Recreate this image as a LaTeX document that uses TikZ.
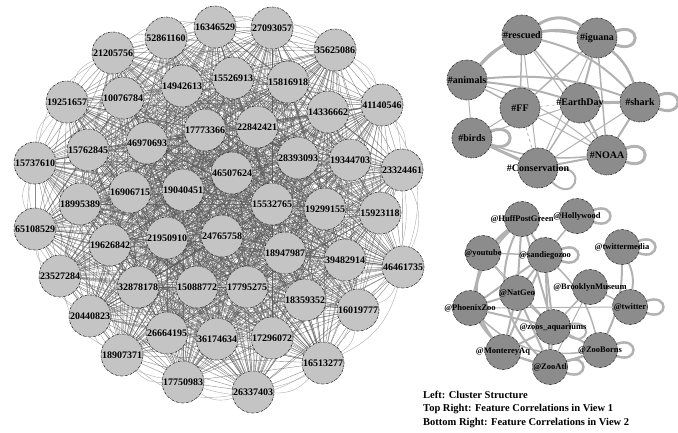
\documentclass[tikz,border=0pt]{standalone}
\usepackage{fontspec}
\setmainfont{Liberation Serif}
\usetikzlibrary{backgrounds}
\definecolor{lfill}{RGB}{196,196,196}
\definecolor{rfill}{RGB}{140,140,140}
\definecolor{redge}{RGB}{178,178,178}
\definecolor{bord}{RGB}{50,50,50}
\newcommand{\lb}[1]{\makebox[0pt]{#1}}
\tikzset{
  lnode/.style={circle,fill=lfill,draw=bord,line width=0.6pt,dash pattern=on 2.5pt off 1pt on 0.6pt off 1pt,minimum size=42pt,inner sep=0pt,font=\fontsize{10}{10}\selectfont\bfseries},
  tnode/.style={circle,fill=rfill,draw=bord,line width=0.6pt,dash pattern=on 2.5pt off 1pt on 0.6pt off 1pt,minimum size=40pt,inner sep=0pt,font=\fontsize{10}{10}\selectfont\bfseries},
  bnode/.style={circle,fill=rfill,draw=bord,line width=0.6pt,dash pattern=on 2.5pt off 1pt on 0.6pt off 1pt,minimum size=35pt,inner sep=0pt,font=\fontsize{8.5}{8.5}\selectfont\bfseries},
  lnk/.style={draw=black!65,line width=0.4pt,draw opacity=0.7},
  arcl/.style={draw=black!35,line width=0.35pt,bend left=25},
  re/.style={draw=redge,line width=#1},
  re/.default=2pt,
  caption/.style={anchor=west,inner sep=0pt,font=\fontsize{10.5}{10.5}\selectfont\bfseries}
}
\begin{document}
\begin{tikzpicture}[x=1pt,y=1pt]
\useasboundingbox (0,0) rectangle (678,-432);
% ---------- left: cluster structure ----------
\foreach \n/\t/\x/\y in {
1/16346529/215/27, 2/27093057/272/28, 3/52861160/166/38, 4/21205756/113/53,
5/35625086/335/50, 6/15526913/233/78, 7/15816918/288/82, 8/14942613/182/86,
9/10076784/123/98, 10/19251657/67/102, 11/41140546/382/105, 12/14336662/328/112,
13/17773366/205/130, 14/22842421/257/127, 15/15762845/88/150, 16/46970693/147/143,
17/28393093/298/158, 18/19344703/350/160, 19/23324461/402/170, 20/15737610/35/163,
21/46507624/232/173, 22/16906715/130/192, 23/19040451/183/190, 24/15532765/272/204,
25/19299155/325/209, 26/15923118/380/213, 27/18995389/80/204, 28/65108529/35/229,
29/19626842/110/245, 30/21950910/167/238, 31/24765758/222/236, 32/18947987/285/253,
33/39482914/345/260, 34/46461735/403/267, 35/23527284/60/276, 36/32878178/138/287,
37/15088772/197/287, 38/17795275/247/287, 39/18359352/305/300, 40/20440823/90/316,
41/16019777/358/310, 42/26664195/167/333, 43/36174634/217/339, 44/17296072/272/338,
45/18907371/122/355, 46/16513277/323/363, 47/17750983/183/382, 48/26337403/253/392}
  \node[lnode] (n\n) at (\x,-\y) {\lb{\t}};
% ---------- top right: view 1 ----------
\node[tnode] (t1) at (522,-35) {\lb{\#rescued}};
\node[tnode] (t2) at (597,-38) {\lb{\#iguana}};
\node[tnode] (t3) at (467,-80) {\lb{\#animals}};
\node[tnode] (t4) at (520,-108) {\lb{\#FF}};
\node[tnode] (t5) at (580,-103) {\lb{\#EarthDay}};
\node[tnode] (t6) at (640,-102) {\lb{\#shark}};
\node[tnode] (t7) at (472,-138) {\lb{\#birds}};
\node[tnode] (t8) at (538,-168) {\lb{\#Conservation}};
\node[tnode] (t9) at (607,-155) {\lb{\#NOAA}};
% ---------- bottom right: view 2 ----------
\node[bnode] (b1) at (522,-219) {\lb{@HuffPostGreen}};
\node[bnode] (b2) at (577,-216) {\lb{@Hollywood}};
\node[bnode] (b3) at (622,-247) {\lb{@twittermedia}};
\node[bnode] (b4) at (483,-253) {\lb{@youtube}};
\node[bnode] (b5) at (545,-255) {\lb{@sandiegozoo}};
\node[bnode] (b6) at (590,-287) {\lb{@BrooklynMuseum}};
\node[bnode] (b7) at (517,-293) {\lb{@NatGeo}};
\node[bnode] (b8) at (470,-308) {\lb{@PhoenixZoo}};
\node[bnode] (b9) at (630,-307) {\lb{@twitter}};
\node[bnode] (b10) at (553,-327) {\lb{@zoos\_aquariums}};
\node[bnode] (b11) at (503,-352) {\lb{@MontereyAq}};
\node[bnode] (b12) at (600,-350) {\lb{@ZooBorns}};
\node[bnode] (b13) at (550,-367) {\lb{@ZooAtl}};
% ---------- caption ----------
\node[caption] (c1) at (423,-395) {Left: Cluster Structure};
\node[caption] (c2) at (423,-409) {Top Right: Feature Correlations in View 1};
\node[caption] (c3) at (423,-423) {Bottom Right: Feature Correlations in View 2};
% ---------- edges ----------
\begin{scope}[on background layer]
\foreach \i in {1,...,48}{
  \foreach \j in {\i,...,48}{
    \ifnum\j>\i \draw[lnk] (n\i) -- (n\j); \fi
  }
}
\foreach \a/\b in {1/2,2/5,5/11,11/19,19/34,34/41,41/46,46/48,48/47,47/45,45/40,40/35,35/28,28/20,20/10,10/4,4/3,3/1,
  1/5,5/19,19/41,41/48,48/45,45/35,35/20,20/4,4/1,2/11,11/34,34/46,46/47,47/40,40/28,28/10,10/3,3/2}
  \draw[arcl] (n\a) to (n\b);
% top right edges
\draw[re=3pt] (t1) to[bend left=35] (t2);
\draw[re=2.5pt] (t1) to[bend left=12] (t2);
\draw[re=3pt] (t1) to[bend right=10] (t3);
\draw[re=2.5pt] (t3) to[bend left=30] (t2);
\draw[re=2pt] (t3) to[bend left=12] (t6);
\draw[re=2pt] (t3) to[bend left=5] (t5);
\draw[re=1.5pt] (t3) -- (t4);
\draw[re=1pt] (t3) to[bend left=10] (t9);
\draw[re=1pt] (t3) -- (t7);
\draw[re=1.5pt] (t1) -- (t5);
\draw[re=2pt] (t1) to[bend left=15] (t6);
\draw[re=1.5pt] (t1) -- (t4);
\draw[re=1pt] (t1) -- (t8);
\draw[re=1pt] (t1) -- (t9);
\draw[re=2.5pt] (t2) to[bend left=15] (t6);
\draw[re=2pt] (t2) -- (t5);
\draw[re=1.5pt] (t2) -- (t4);
\draw[re=1pt] (t2) -- (t8);
\draw[re=1.5pt] (t2) -- (t9);
\draw[re=0.6pt,dashed] (t4) -- (t5);
\draw[re=1pt] (t4) -- (t7);
\draw[re=0.8pt,dashed] (t4) -- (t8);
\draw[re=1pt] (t4) -- (t9);
\draw[re=3pt] (t7) -- (t8);
\draw[re=1.5pt] (t7) to[bend right=12] (t9);
\draw[re=1pt] (t7) -- (t5);
\draw[re=3pt] (t5) -- (t6);
\draw[re=2pt] (t5) -- (t9);
\draw[re=1.5pt] (t5) -- (t8);
\draw[re=2pt] (t6) -- (t9);
\draw[re=1pt] (t6) -- (t8);
\draw[re=2pt] (t8) -- (t9);
\draw[re=3pt] (t2) to[out=20,in=-20,looseness=5] (t2);
\draw[re=3pt] (t6) to[out=20,in=-20,looseness=5] (t6);
\draw[re=3pt] (t9) to[out=20,in=-20,looseness=5] (t9);
\draw[re=3pt] (t7) to[out=20,in=-20,looseness=5] (t7);
\draw[re=2pt] (t8) to[out=0,in=-45,looseness=5] (t8);
% bottom right edges
\draw[re] (b1) -- (b4);
\draw[re] (b1) -- (b5);
\draw[re] (b1) -- (b7);
\draw[re] (b1) to[bend right=15] (b8);
\draw[re] (b1) to[bend right=45] (b11);
\draw[re] (b1) to[bend right=35] (b13);
\draw[re] (b1) -- (b10);
\draw[re=1.5pt] (b2) -- (b5);
\draw[re] (b3) to[bend left=15] (b9);
\draw[re] (b3) to[bend left=12] (b12);
\draw[re=1.5pt] (b4) -- (b5);
\draw[re=1.5pt] (b4) -- (b8);
\draw[re=1pt] (b4) -- (b7);
\draw[re=1pt] (b4) -- (b10);
\draw[re] (b5) -- (b7);
\draw[re] (b5) -- (b10);
\draw[re] (b5) -- (b11);
\draw[re] (b5) -- (b13);
\draw[re] (b5) -- (b8);
\draw[re=1.5pt] (b5) to[bend left=15] (b12);
\draw[re=1.5pt] (b6) -- (b9);
\draw[re=1.5pt] (b6) -- (b10);
\draw[re=1pt] (b6) -- (b13);
\draw[re] (b7) -- (b8);
\draw[re] (b7) -- (b10);
\draw[re] (b7) -- (b11);
\draw[re] (b7) -- (b13);
\draw[re] (b8) -- (b11);
\draw[re] (b8) -- (b10);
\draw[re] (b8) to[bend right=20] (b13);
\draw[re=1pt] (b8) -- (b9);
\draw[re=1.5pt] (b8) to[bend right=25] (b12);
\draw[re] (b10) -- (b11);
\draw[re] (b10) -- (b13);
\draw[re] (b10) -- (b12);
\draw[re] (b11) -- (b13);
\draw[re=1.5pt] (b11) to[bend right=20] (b12);
\draw[re] (b12) -- (b13);
\draw[re=2.5pt] (b2) to[out=20,in=-20,looseness=5] (b2);
\draw[re=2.5pt] (b3) to[out=20,in=-20,looseness=5] (b3);
\draw[re=2.5pt] (b5) to[out=20,in=-20,looseness=5] (b5);
\draw[re=2.5pt] (b9) to[out=20,in=-20,looseness=5] (b9);
\draw[re=2.5pt] (b12) to[out=20,in=-20,looseness=5] (b12);
\draw[re=2.5pt] (b13) to[out=20,in=-20,looseness=5] (b13);
\draw[re=2pt] (b10) to[out=10,in=-30,looseness=5] (b10);
\end{scope}
\end{tikzpicture}
\end{document}
